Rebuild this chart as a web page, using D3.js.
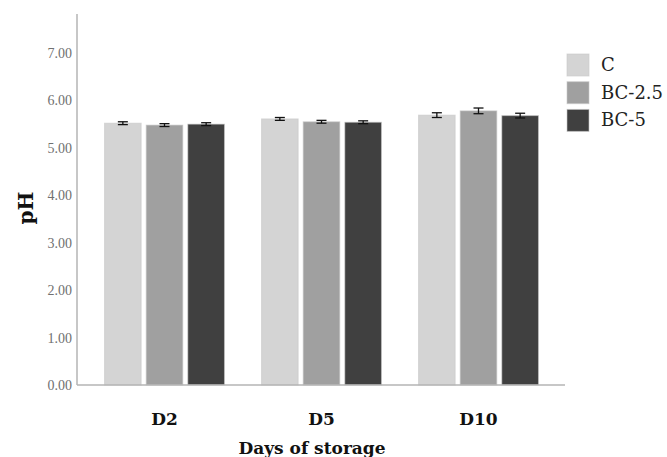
<!DOCTYPE html>
<html>
<head>
<meta charset="utf-8">
<script src="https://cdn.jsdelivr.net/npm/d3@7"></script>
<style>
  body { margin: 0; background: #fff; }
  svg { display: block; }
</style>
</head>
<body>
<div id="chart"></div>
<script>
// days of storage and treatments
var days = ["D2", "D5", "D10"]
var treatments = ["C", "BC-2.5", "BC-5"]

// mean pH per treatment, in order of days
var phC = [5.52, 5.61, 5.69]
var phBC25 = [5.48, 5.55, 5.78]
var phBC5 = [5.50, 5.54, 5.68]

// error bar half widths
var errC = [0.03, 0.03, 0.05]
var errBC25 = [0.03, 0.03, 0.06]
var errBC5 = [0.03, 0.03, 0.05]

var yTicks = [0, 1, 2, 3, 4, 5, 6, 7]

var colours = ["#d4d4d4", "#a0a0a0", "#404040"]

var width = 667, height = 457

var means = [phC, phBC25, phBC5]
var errs = [errC, errBC25, errBC5]

var rows = []
days.forEach(function(d, i) {
    treatments.forEach(function(t, j) {
        rows.push({ day: d, treatment: t, value: means[j][i], err: errs[j][i] })
    })
})

var svg = d3.select("#chart").append("svg")
    .attr("width", width)
    .attr("height", height)

var y = d3.scaleLinear()
    .domain([0, 7])
    .range([385, 53])

var x0 = d3.scaleBand()
    .domain(days)
    .range([86, 557])
    .paddingInner(0.236)
    .paddingOuter(0.118)

var x1 = d3.scaleBand()
    .domain(treatments)
    .range([0, x0.bandwidth()])
    .paddingInner(0.12)

var colour = d3.scaleOrdinal()
    .domain(treatments)
    .range(colours)

// y axis, labels only
var yAxis = svg.append("g")
    .attr("transform", "translate(77,0)")
    .call(d3.axisLeft(y).tickValues(yTicks).tickFormat(d3.format(".2f")).tickSize(0).tickPadding(5))

yAxis.select(".domain").remove()
yAxis.selectAll("text")
    .attr("font-family", "'Liberation Serif', serif")
    .attr("font-size", 14)
    .attr("fill", "#707070")

svg.append("line")
    .attr("x1", 77).attr("x2", 77)
    .attr("y1", 14).attr("y2", y(0))
    .attr("stroke", "#b4b4b4")
    .attr("stroke-width", 1.5)

// bars
svg.append("g").selectAll("rect")
    .data(rows)
    .join("rect")
    .attr("x", d => x0(d.day) + x1(d.treatment))
    .attr("y", d => y(d.value))
    .attr("width", x1.bandwidth())
    .attr("height", d => y(0) - y(d.value))
    .attr("fill", d => colour(d.treatment))
    .attr("stroke", "#c8c8c8")
    .attr("stroke-opacity", 0.6)
    .attr("stroke-width", 1)

// error bars
var eb = svg.append("g").selectAll("g")
    .data(rows)
    .join("g")
    .attr("transform", d => `translate(${x0(d.day) + x1(d.treatment) + x1.bandwidth() / 2},0)`)
    .attr("stroke", "#111")
    .attr("stroke-width", 1.3)

eb.append("line")
    .attr("y1", d => y(d.value + d.err))
    .attr("y2", d => y(d.value - d.err))

eb.append("line")
    .attr("x1", -5).attr("x2", 5)
    .attr("y1", d => y(d.value + d.err))
    .attr("y2", d => y(d.value + d.err))

eb.append("line")
    .attr("x1", -5).attr("x2", 5)
    .attr("y1", d => y(d.value - d.err))
    .attr("y2", d => y(d.value - d.err))

// x axis
svg.append("line")
    .attr("x1", 77).attr("x2", 565)
    .attr("y1", y(0)).attr("y2", y(0))
    .attr("stroke", "#b4b4b4")
    .attr("stroke-width", 1.5)

svg.append("g").selectAll("text")
    .data(days)
    .join("text")
    .attr("x", d => x0(d) + x0.bandwidth() / 2)
    .attr("y", 425)
    .attr("text-anchor", "middle")
    .attr("font-family", "'DejaVu Serif', serif")
    .attr("font-weight", "bold")
    .attr("font-size", 17)
    .attr("fill", "#111")
    .text(d => d)

svg.append("text")
    .attr("x", 312)
    .attr("y", 454)
    .attr("text-anchor", "middle")
    .attr("font-family", "'DejaVu Serif', serif")
    .attr("font-weight", "bold")
    .attr("font-size", 17)
    .attr("fill", "#111")
    .text("Days of storage")

svg.append("text")
    .attr("transform", "translate(33,208) rotate(-90)")
    .attr("text-anchor", "middle")
    .attr("font-family", "'DejaVu Serif', serif")
    .attr("font-weight", "bold")
    .attr("font-size", 20)
    .attr("fill", "#111")
    .text("pH")

// legend
var legend = svg.append("g").selectAll("g")
    .data(treatments)
    .join("g")
    .attr("transform", (d, i) => `translate(567,${54 + i * 27.7})`)

legend.append("rect")
    .attr("width", 22)
    .attr("height", 22)
    .attr("fill", d => colour(d))
    .attr("stroke", "#c8c8c8")
    .attr("stroke-opacity", 0.6)

legend.append("text")
    .attr("x", 34)
    .attr("y", 17)
    .attr("font-family", "'DejaVu Serif', serif")
    .attr("font-size", 18)
    .attr("fill", "#222")
    .text(d => d)
</script>
</body>
</html>
